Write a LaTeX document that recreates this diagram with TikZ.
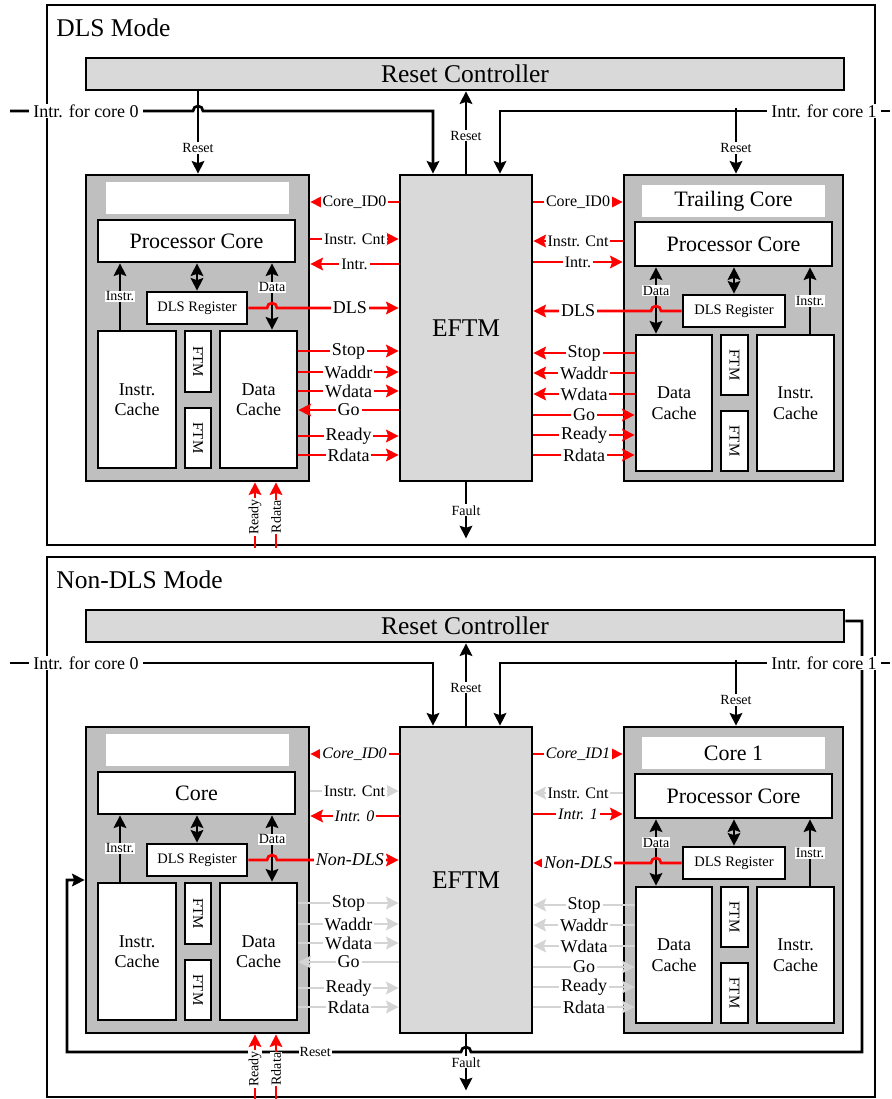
\documentclass[tikz,border=0pt]{standalone}
\usepackage{fontspec}
\setmainfont{Liberation Serif}
\usetikzlibrary{arrows.meta}
\definecolor{ctrlgray}{RGB}{217,217,217}
\definecolor{coregray}{RGB}{191,191,191}
\definecolor{offgray}{RGB}{212,212,212}

\begin{document}
\begin{tikzpicture}[x=1pt, y=-1pt, line width=2.7pt,
  >={Stealth[length=12.5pt, width=12.5pt, inset=2pt]},
  blk/.style={draw, line width=2.7pt, fill=white, inner sep=0pt, align=center},
  sz/.style 2 args={minimum width=#1, minimum height=#2},
  big/.style={font=\fontsize{25.5}{25.5}\selectfont},
  ttl/.style={font=\fontsize{22}{22}\selectfont},
  cache/.style={font=\fontsize{18}{20.5}\selectfont},
  lbl/.style={fill=white, text=black, inner xsep=2pt, inner ysep=0.5pt, font=\fontsize{16}{16}\selectfont},
  dlbl/.style={lbl, font=\fontsize{18}{18}\selectfont},
  smalllbl/.style={fill=white, text=black, inner sep=1pt, font=\fontsize{14}{14}\selectfont}]
\useasboundingbox (0,0) rectangle (891,1099);

\foreach \p/\dy/\mode/\pc/\tc/\dc/\idl/\idr/\inl/\inr/\dl in
  {A/0/DLS Mode/Processor Core/Trailing Core/red/Core\_ID0/Core\_ID0/Intr./Intr./DLS,
   B/552/Non-DLS Mode/Core/Core 1/offgray/\textit{Core\_ID0}/\textit{Core\_ID1}/\textit{Intr. 0}/\textit{Intr. 1}/\textit{Non-DLS}}{
\begin{scope}[shift={(0,\dy)}]
\node[draw, line width=2.2pt, sz={828}{540}] (frame\p) at (461,275) {};
\node[big, anchor=west, inner sep=0pt] (mode\p) at (55,28) {\mode};
\node[blk, big, fill=ctrlgray, sz={758}{32}] (rc\p) at (465,74) {Reset Controller};
\node[blk, big, fill=ctrlgray, sz={132}{306}] (eftm\p) at (466,328) {EFTM};

\node[blk, fill=coregray, sz={223}{306}] (lcore\p) at (197.5,328) {};
\node[fill=white, inner sep=0pt, sz={183}{32}] (ltitle\p) at (197.5,198) {};
\node[blk, ttl, sz={197}{42}] (lproc\p) at (196.5,241) {\pc};
\node[blk, sz={100}{32}, font=\fontsize{14.5}{14.5}\selectfont] (ldls\p) at (197,308) {DLS Register};
\node[blk, cache, sz={78}{137}] (licache\p) at (137,399.5) {Instr.\\Cache};
\node[blk, sz={61}{26}, rotate=-90, font=\fontsize{15}{15}\selectfont] (lftma\p) at (198,361.5) {FTM};
\node[blk, sz={60}{26}, rotate=-90, font=\fontsize{15}{15}\selectfont] (lftmb\p) at (198,438) {FTM};
\node[blk, cache, sz={77}{137}] (ldcache\p) at (258.5,399.5) {Data\\Cache};

\node[blk, fill=coregray, sz={219}{306}] (rcore\p) at (733.5,328) {};
\node[fill=white, inner sep=0pt, ttl, sz={183}{32}] (rtitle\p) at (733.5,201) {\tc};
\node[blk, ttl, sz={197}{44}] (rproc\p) at (733.5,244) {Processor Core};
\node[blk, sz={102}{32}, font=\fontsize{14.5}{14.5}\selectfont] (rdls\p) at (734,311) {DLS Register};
\node[blk, cache, sz={76}{136}] (rdcache\p) at (674,403) {Data\\Cache};
\node[blk, sz={60}{27}, rotate=-90, font=\fontsize{15}{15}\selectfont] (rftma\p) at (734.5,365) {FTM};
\node[blk, sz={60}{27}, rotate=-90, font=\fontsize{15}{15}\selectfont] (rftmb\p) at (734.5,441) {FTM};
\node[blk, cache, sz={77}{136}] (ricache\p) at (795.5,403) {Instr.\\Cache};

\draw[->] (120,0 |- licache\p.north) -- node[smalllbl] (li\p) {Instr.} (120,0 |- lproc\p.south);
\draw[<->] (ldls\p.north) -- (ldls\p.north |- lproc\p.south);
\draw[<->] (272,0 |- lproc\p.south) -- node[smalllbl, pos=0.36] (ld\p) {Data} (272,0 |- ldcache\p.north);
\draw[->] (810,0 |- ricache\p.north) -- node[smalllbl, pos=0.49] (ri\p) {Instr.} (810,0 |- rproc\p.south);
\draw[<->] (rdls\p.north) -- (rdls\p.north |- rproc\p.south);
\draw[<->] (656,0 |- rproc\p.south) -- node[smalllbl, pos=0.35] (rd\p) {Data} (656,0 |- rdcache\p.north);

\draw[->] (736,108) -- node[smalllbl, pos=0.61] (rst1\p) {Reset} (736,0 |- rcore\p.north);
\draw[->] (eftm\p.north) -- node[smalllbl, pos=0.46] (rste\p) {Reset} (eftm\p.north |- rc\p.south);
\draw[->] (eftm\p.south) -- node[smalllbl] (fault\p) {Fault} ++(0,56);

\draw[->, red] (ldls\p.east) -- (267,0 |- ldls\p.east) arc(180:360:5)
  -- node[dlbl, pos=0.6] (dlsl\p) {\dl} (eftm\p.west |- ldls\p.east);
\draw[->, red] (rdls\p.west) -- (661,0 |- rdls\p.west) arc(0:-180:5)
  -- node[dlbl, pos=0.62] (dlsr\p) {\dl} (eftm\p.east |- rdls\p.west);

\foreach \y/\s/\t/\c/\l [count=\k] in
  {202/eftm\p.west/lcore\p.east/red/\idl, 239/lcore\p.east/eftm\p.west/\dc/Instr. Cnt,
   264/eftm\p.west/lcore\p.east/red/\inl, 202/eftm\p.east/rcore\p.west/red/\idr,
   241/rcore\p.west/eftm\p.east/\dc/Instr. Cnt, 262/eftm\p.east/rcore\p.west/red/\inr}
  \draw[->, color=\c] (\s |- 0,\y) -- node[lbl] (ctl\p\k) {\l} (\t |- 0,\y);

\foreach \y/\s/\t/\l [count=\k] in
  {351/ldcache\p.east/eftm\p.west/Stop, 372/ldcache\p.east/eftm\p.west/Waddr,
   391/ldcache\p.east/eftm\p.west/Wdata, 410/eftm\p.west/ldcache\p.east/Go,
   436/ldcache\p.east/eftm\p.west/Ready, 455/ldcache\p.east/eftm\p.west/Rdata,
   353/rdcache\p.west/eftm\p.east/Stop, 373/rdcache\p.west/eftm\p.east/Waddr,
   394/rdcache\p.west/eftm\p.east/Wdata, 415/eftm\p.east/rdcache\p.west/Go,
   435/eftm\p.east/rdcache\p.west/Ready, 455/eftm\p.east/rdcache\p.west/Rdata}
  \draw[->, color=\dc] (\s |- 0,\y) -- node[dlbl] (dat\p\k) {\l} (\t |- 0,\y);
\end{scope}
}

\draw[->] (10,111) -- (193,111) arc(180:360:5) -- (433,111) -- (433,0 |- eftmA.north);
\node[dlbl, inner xsep=4pt] (intr0A) at (86,111) {Intr. for core 0};
\draw[->] (890,111) -- (500,111) -- (500,0 |- eftmA.north);
\node[dlbl, inner xsep=4pt] (intr1A) at (824,111) {Intr. for core 1};
\draw[->] (198,0 |- rcA.south) -- node[smalllbl, pos=0.69] (rst0A) {Reset} (198,0 |- lcoreA.north);

\begin{scope}[shift={(0,552)}]
\draw[->] (rcB.east |- 0,69) -- (862,69) -- (862,500) -- (471,500) arc(0:-180:5)
  -- node[smalllbl, pos=0.37] (rstB) {Reset} (67,500) -- (67,0 |- lcoreB.west) -- (lcoreB.west);
\draw[->] (10,111) -- (433,111) -- (433,0 |- eftmB.north);
\node[dlbl, inner xsep=4pt] (intr0B) at (86,111) {Intr. for core 0};
\draw[->] (890,111) -- (500,111) -- (500,0 |- eftmB.north);
\node[dlbl, inner xsep=4pt] (intr1B) at (824,111) {Intr. for core 1};
\end{scope}

\foreach \p/\dy in {A/0, B/552}
  \foreach \x/\l in {255/Ready, 276/Rdata}{
    \begin{scope}[shift={(0,\dy)}]
    \draw[->, red] (\x,548) -- (\x,0 |- lcore\p.south);
    \node[smalllbl, rotate=90] (\l\p) at (\x,517) {\l};
    \end{scope}}
\end{tikzpicture}
\end{document}
